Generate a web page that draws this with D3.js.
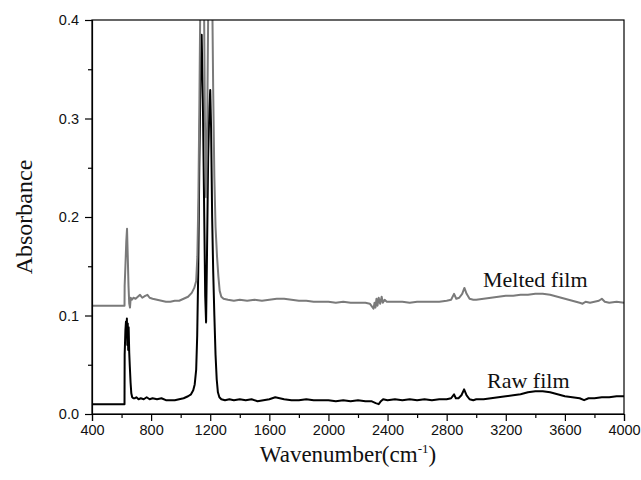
<!DOCTYPE html>
<html>
<head>
<meta charset="utf-8">
<script src="https://cdn.jsdelivr.net/npm/d3@7"></script>
<style>
html,body{margin:0;padding:0;background:#fff;}
svg{display:block;}
</style>
</head>
<body>
<svg id="chart" width="641" height="480"></svg>
<script>
// ---- data (wavenumber cm^-1, absorbance) ----
const rawFilm = [[400,0.010],[620,0.010],[621,0.060],[626,0.085],[630,0.094],[633,0.078],[636,0.097],[639,0.070],[642,0.092],[645,0.065],[648,0.088],[652,0.062],[656,0.048],[661,0.032],[666,0.021],[672,0.017],[680,0.016],[690,0.016],[700,0.017],[715,0.015],[730,0.016],[750,0.015],[770,0.017],[790,0.015],[810,0.016],[840,0.015],[870,0.016],[900,0.014],[930,0.014],[960,0.014],[990,0.015],[1020,0.016],[1050,0.018],[1070,0.020],[1085,0.024],[1095,0.030],[1105,0.045],[1112,0.080],[1119,0.146],[1126,0.250],[1134,0.340],[1142,0.385],[1150,0.320],[1158,0.220],[1166,0.120],[1172,0.093],[1178,0.160],[1186,0.260],[1194,0.310],[1200,0.329],[1206,0.290],[1213,0.200],[1220,0.146],[1228,0.100],[1236,0.060],[1244,0.035],[1252,0.022],[1262,0.017],[1275,0.015],[1300,0.014],[1330,0.015],[1360,0.014],[1400,0.015],[1440,0.014],[1480,0.015],[1520,0.013],[1560,0.014],[1600,0.015],[1640,0.017],[1670,0.016],[1700,0.015],[1750,0.014],[1800,0.014],[1850,0.015],[1900,0.014],[1950,0.014],[2000,0.014],[2050,0.013],[2100,0.014],[2150,0.013],[2200,0.014],[2250,0.013],[2290,0.013],[2320,0.011],[2340,0.010],[2355,0.013],[2370,0.015],[2400,0.014],[2450,0.015],[2500,0.014],[2550,0.015],[2600,0.014],[2650,0.015],[2700,0.014],[2750,0.015],[2800,0.015],[2830,0.016],[2850,0.020],[2862,0.016],[2880,0.016],[2900,0.019],[2918,0.025],[2935,0.019],[2955,0.015],[2980,0.014],[3000,0.015],[3050,0.015],[3100,0.016],[3150,0.017],[3200,0.018],[3250,0.019],[3300,0.020],[3350,0.022],[3400,0.023],[3450,0.023],[3500,0.022],[3550,0.020],[3600,0.018],[3650,0.017],[3700,0.016],[3730,0.014],[3760,0.016],[3800,0.016],[3850,0.017],[3900,0.017],[3950,0.018],[4000,0.018]];

const meltedFilm = [[400,0.110],[620,0.110],[621,0.130],[626,0.150],[632,0.175],[637,0.188],[642,0.160],[647,0.130],[652,0.112],[657,0.108],[662,0.118],[670,0.116],[680,0.118],[695,0.117],[710,0.119],[725,0.121],[740,0.118],[760,0.120],[775,0.121],[790,0.118],[810,0.117],[840,0.116],[870,0.115],[900,0.114],[930,0.114],[960,0.115],[990,0.115],[1020,0.117],[1050,0.119],[1075,0.123],[1092,0.128],[1105,0.135],[1113,0.160],[1120,0.220],[1127,0.320],[1133,0.420],[1140,0.550],[1146,0.600],[1152,0.550],[1158,0.420],[1164,0.300],[1172,0.220],[1180,0.300],[1187,0.420],[1194,0.550],[1200,0.600],[1207,0.550],[1214,0.420],[1220,0.330],[1228,0.240],[1236,0.190],[1246,0.160],[1255,0.140],[1264,0.125],[1275,0.119],[1290,0.117],[1320,0.116],[1360,0.115],[1400,0.116],[1450,0.115],[1500,0.116],[1550,0.115],[1600,0.116],[1650,0.117],[1700,0.117],[1750,0.116],[1800,0.115],[1850,0.115],[1900,0.114],[1950,0.114],[2000,0.114],[2050,0.113],[2100,0.114],[2150,0.113],[2200,0.113],[2250,0.113],[2280,0.112],[2295,0.109],[2305,0.107],[2312,0.113],[2318,0.108],[2325,0.117],[2332,0.110],[2340,0.118],[2350,0.112],[2360,0.119],[2368,0.113],[2380,0.116],[2395,0.114],[2450,0.114],[2500,0.114],[2550,0.113],[2600,0.114],[2650,0.114],[2700,0.114],[2750,0.114],[2800,0.115],[2830,0.116],[2850,0.122],[2865,0.117],[2885,0.118],[2905,0.122],[2920,0.128],[2935,0.122],[2955,0.117],[2980,0.116],[3000,0.116],[3050,0.117],[3100,0.118],[3150,0.119],[3200,0.120],[3250,0.120],[3300,0.121],[3350,0.121],[3400,0.122],[3450,0.122],[3500,0.121],[3550,0.119],[3600,0.117],[3650,0.115],[3700,0.113],[3720,0.112],[3740,0.114],[3770,0.113],[3800,0.114],[3830,0.115],[3850,0.117],[3870,0.114],[3900,0.113],[3950,0.114],[4000,0.113]];

const xTicks = [400,800,1200,1600,2000,2400,2800,3200,3600,4000];
const xMinorTicks = [600,1000,1400,1800,2200,2600,3000,3400,3800];
const yTicks = [0.0,0.1,0.2,0.3,0.4];
const yMinorTicks = [0.05,0.15,0.25,0.35];
const seriesLabels = ["Melted film","Raw film"];
const labelPos = [[3046,0.129],[3073,0.026]];

// ---- layout ----
const svg = d3.select("#chart");
const L = 92, R = 624, T = 20, B = 414;
const x = d3.scaleLinear().domain([400,4000]).range([L,R]);
const y = d3.scaleLinear().domain([0,0.4]).range([B,T]);

svg.append("defs").append("clipPath").attr("id","clip")
  .append("rect").attr("x",L).attr("y",T).attr("width",R-L).attr("height",B-T);

const line = d3.line().x(d=>x(d[0])).y(d=>y(d[1]));
const g = svg.append("g").attr("clip-path","url(#clip)");
g.append("path").datum(rawFilm).attr("d",line)
  .attr("fill","none").attr("stroke","#000").attr("stroke-width",2).attr("stroke-linejoin","round");
g.append("path").datum(meltedFilm).attr("d",line)
  .attr("fill","none").attr("stroke","#7a7a7a").attr("stroke-width",2).attr("stroke-linejoin","round");

// frame
svg.append("rect").attr("x",L).attr("y",T).attr("width",R-L).attr("height",B-T)
  .attr("fill","none").attr("stroke","#000").attr("stroke-width",1.2);

// axes
svg.append("g").attr("transform",`translate(0,${B})`)
  .call(d3.axisBottom(x).tickValues(xTicks).tickFormat(d3.format("d")).tickSize(7).tickPadding(4));
svg.append("g").attr("transform",`translate(0,${B})`)
  .call(d3.axisBottom(x).tickValues(xMinorTicks).tickFormat("").tickSize(4))
  .select(".domain").remove();
svg.append("g").attr("transform",`translate(${L},0)`)
  .call(d3.axisLeft(y).tickValues(yTicks).tickFormat(d3.format(".1f")).tickSize(7).tickPadding(6));
svg.append("g").attr("transform",`translate(${L},0)`)
  .call(d3.axisLeft(y).tickValues(yMinorTicks).tickFormat("").tickSize(4))
  .select(".domain").remove();

svg.selectAll(".tick line").attr("stroke","#000").attr("stroke-width",1.2);
svg.selectAll(".domain").attr("stroke","#000").attr("stroke-width",1.2);
svg.selectAll(".tick text").attr("font-family","'Liberation Sans', Arial, sans-serif")
  .attr("font-size",14.5).attr("fill","#111");

// series labels
svg.selectAll(".slabel").data(seriesLabels).enter().append("text")
  .attr("x",(d,i)=>x(labelPos[i][0])).attr("y",(d,i)=>y(labelPos[i][1]))
  .attr("font-family","'Liberation Serif', 'Times New Roman', serif")
  .attr("font-size",22).attr("fill","#111").text(d=>d);

// axis titles
svg.append("text").attr("transform",`translate(32,${(T+B)/2}) rotate(-90)`)
  .attr("text-anchor","middle").attr("font-family","'Liberation Serif', 'Times New Roman', serif")
  .attr("font-size",24).attr("fill","#111").text("Absorbance");

const xt = svg.append("text").attr("x",(L+R)/2 - 10).attr("y",462)
  .attr("text-anchor","middle").attr("font-family","'Liberation Serif', 'Times New Roman', serif")
  .attr("font-size",23).attr("fill","#111");
xt.append("tspan").text("Wavenumber(cm");
xt.append("tspan").attr("dy",-9).attr("font-size",13).text("-1");
xt.append("tspan").attr("dy",9).text(")");
</script>
</body>
</html>
